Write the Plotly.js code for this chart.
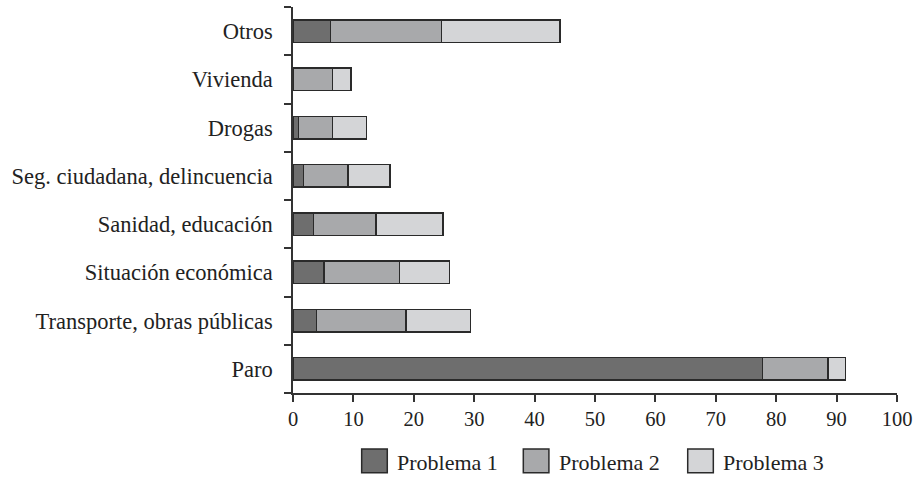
<!DOCTYPE html>
<html>
<head>
<meta charset="utf-8">
<script src="https://cdn.plot.ly/plotly-3.0.1.min.js"></script>
<style>html,body{margin:0;padding:0;background:#fff;}#chart{width:917px;height:479px;}</style>
</head>
<body>
<div id="chart"></div>
<script>
const categories = ["Paro", "Transporte, obras públicas", "Situación económica", "Sanidad, educación", "Seg. ciudadana, delincuencia", "Drogas", "Vivienda", "Otros"];
const problema1 = [77.7, 3.9, 5.1, 3.4, 1.7, 0.9, 0.0, 6.2];
const problema2 = [10.9, 14.8, 12.5, 10.3, 7.4, 5.6, 6.5, 18.4];
const problema3 = [2.9, 10.7, 8.3, 11.1, 7.0, 5.7, 3.1, 19.6];
const seriesNames = ["Problema 1", "Problema 2", "Problema 3"];
const xTicks = [0, 10, 20, 30, 40, 50, 60, 70, 80, 90, 100];

const colors = ["#6e6e6e", "#a8a9ab", "#d4d5d7"];
const edge = "#2a2a2a";
const vals = [problema1, problema2, problema3];
const traces = vals.map((v, i) => ({
  type: "bar",
  orientation: "h",
  name: seriesNames[i],
  y: categories,
  x: v,
  marker: { color: colors[i], line: { color: edge, width: 1.5 } },
  hoverinfo: "x+y+name"
}));

// custom legend (large swatches like the reference)
const legendSwatchX = [0.1137, 0.3813, 0.6535];
const swW = 0.0424, swY0 = -0.2065, swY1 = -0.1451, textY = -0.1813, textGap = 0.0135;
const shapes = seriesNames.map((n, i) => ({
  type: "rect", xref: "paper", yref: "paper",
  x0: legendSwatchX[i], x1: legendSwatchX[i] + swW, y0: swY0, y1: swY1,
  fillcolor: colors[i], line: { color: edge, width: 1.5 }
}));
const annotations = seriesNames.map((n, i) => ({
  xref: "paper", yref: "paper",
  x: legendSwatchX[i] + swW + textGap, y: textY,
  xanchor: "left", yanchor: "middle",
  text: n, showarrow: false,
  font: { size: 22, color: "#222" }
}));

const layout = {
  width: 917, height: 479,
  margin: { l: 293, r: 20, t: 7, b: 86 },
  barmode: "stack",
  bargap: 0.53,
  paper_bgcolor: "#fff",
  plot_bgcolor: "#fff",
  font: { family: "Liberation Serif, Times New Roman, serif", size: 22, color: "#222" },
  xaxis: {
    range: [0, 100],
    tickvals: xTicks,
    ticktext: xTicks.map(String),
    tickfont: { size: 20.5 },
    showgrid: false, zeroline: false,
    showline: true, linecolor: "#333", linewidth: 1.5,
    ticks: "outside", ticklen: 7, tickwidth: 1.5, tickcolor: "#333",
    fixedrange: true
  },
  yaxis: {
    type: "category",
    tickfont: { size: 22.5 },
    showgrid: false, zeroline: false,
    showline: true, linecolor: "#333", linewidth: 1.5,
    ticks: "outside", tickson: "boundaries", ticklen: 7, tickwidth: 1.5, tickcolor: "#333",
    ticklabelstandoff: 14,
    fixedrange: true
  },
  shapes: shapes,
  annotations: annotations,
  showlegend: false
};

Plotly.newPlot("chart", traces, layout, { displayModeBar: false });
</script>
</body>
</html>
